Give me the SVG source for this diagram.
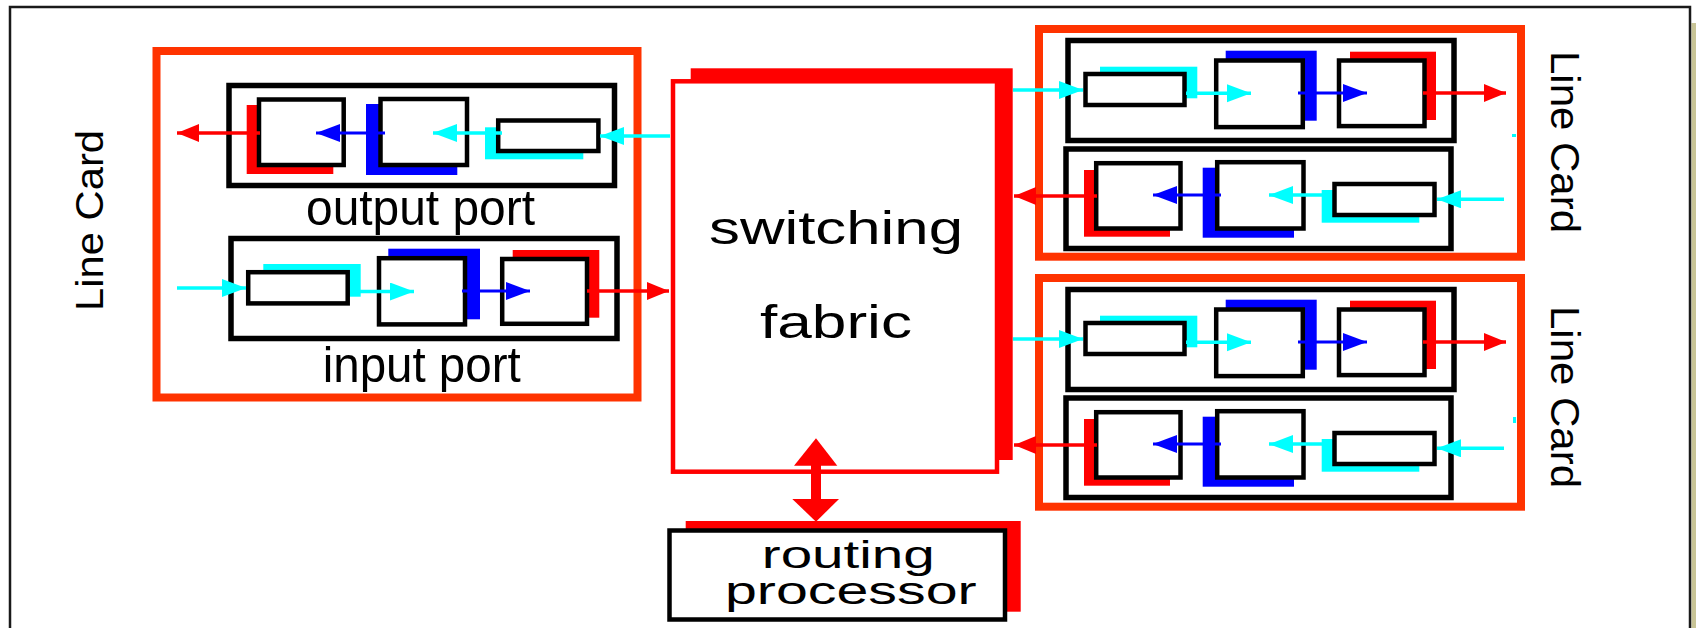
<svg xmlns="http://www.w3.org/2000/svg" width="1696" height="628" viewBox="0 0 1696 628">
<defs>
<style>
.t{font-family:"Liberation Sans",Arial,sans-serif;fill:#000}
.card{fill:none;stroke:#FF3300;stroke-width:8}
.port{fill:none;stroke:#000;stroke-width:5.5}
.box{fill:#fff;stroke:#000;stroke-width:4.5}
.rs{fill:#FF0000}
.bs{fill:#0000FF}
.cs{fill:#00FFFF}
.ac{stroke:#00FFFF;stroke-width:3.5;fill:none;marker-end:url(#hc)}
.ab{stroke:#0000FF;stroke-width:3;fill:none;marker-end:url(#hb)}
.ar{stroke:#FF0000;stroke-width:3.5;fill:none;marker-end:url(#hr)}
</style>
<marker id="hc" markerUnits="userSpaceOnUse" markerWidth="26" markerHeight="20" refX="24" refY="9" orient="auto"><path d="M0,0 L24,9 L0,18 z" fill="#00FFFF"/></marker>
<marker id="hb" markerUnits="userSpaceOnUse" markerWidth="26" markerHeight="20" refX="24" refY="9" orient="auto"><path d="M0,0 L24,9 L0,18 z" fill="#0000FF"/></marker>
<marker id="hr" markerUnits="userSpaceOnUse" markerWidth="26" markerHeight="20" refX="22" refY="9" orient="auto"><path d="M0,0 L22,9 L0,18 z" fill="#FF0000"/></marker>
</defs>
<rect x="0" y="0" width="1696" height="628" fill="#fff"/>
<rect x="1691.5" y="23" width="5" height="620" fill="#C8C496"/>
<rect x="10" y="7" width="1680" height="640" fill="#fff" stroke="#1a1a1a" stroke-width="2.5"/>

<g id="linecard-left">
<rect class="card" x="156.5" y="51" width="481" height="346.5"/>
<text class="t" font-size="39" text-anchor="middle" textLength="181" lengthAdjust="spacingAndGlyphs" transform="translate(103,220.5) rotate(-90)">Line Card</text>
</g>
<g id="output-port-left">
<rect class="port" x="229" y="85.5" width="385.5" height="100"/>
<rect class="rs" x="246.7" y="105" width="86.6" height="69"/>
<rect class="box" x="259" y="99.5" width="84.7" height="65.5"/>
<rect class="bs" x="366" y="104" width="91.3" height="71"/>
<rect class="box" x="380.5" y="99" width="86.5" height="66"/>
<rect class="cs" x="485" y="127.3" width="98.3" height="32"/>
<rect class="box" x="498.2" y="120.5" width="100.2" height="30.5"/>
<text class="t" font-size="50" x="420.5" y="225" text-anchor="middle" textLength="229" lengthAdjust="spacingAndGlyphs">output port</text>
</g>
<g id="input-port-left">
<rect class="port" x="231" y="238.5" width="386" height="100"/>
<rect class="cs" x="263.3" y="264" width="97.4" height="32.7"/>
<rect class="box" x="248.2" y="272.2" width="99.5" height="31.2"/>
<rect class="bs" x="388.3" y="248.7" width="91.7" height="70.6"/>
<rect class="box" x="379" y="258.2" width="86" height="66.2"/>
<rect class="rs" x="512.7" y="250" width="86.6" height="67.7"/>
<rect class="box" x="502.2" y="259" width="84.8" height="64.8"/>
<text class="t" font-size="50" x="421.7" y="381.7" text-anchor="middle" textLength="198" lengthAdjust="spacingAndGlyphs">input port</text>
</g>

<g id="switching-fabric">
<rect class="rs" x="690.7" y="68.3" width="322" height="391.7"/>
<rect x="673" y="81.3" width="324" height="390.4" fill="#fff" stroke="#FF0000" stroke-width="4.5"/>
<text class="t" font-size="46" x="836" y="244" text-anchor="middle" textLength="254" lengthAdjust="spacingAndGlyphs">switching</text>
<text class="t" font-size="46" x="836" y="338.3" text-anchor="middle" textLength="152" lengthAdjust="spacingAndGlyphs">fabric</text>
</g>

<g id="routing-processor">
<rect class="rs" x="685.7" y="521" width="335" height="90.7"/>
<rect class="box" x="669.5" y="530.5" width="335.5" height="89"/>
<text class="t" font-size="39" x="848.3" y="568" text-anchor="middle" textLength="173" lengthAdjust="spacingAndGlyphs">routing</text>
<text class="t" font-size="39" x="850.8" y="604" text-anchor="middle" textLength="251.7" lengthAdjust="spacingAndGlyphs">processor</text>
</g>

<g id="linecard-right-top">
<rect class="card" x="1039" y="29" width="482" height="227.7"/>
<text class="t" font-size="40" text-anchor="middle" textLength="182" lengthAdjust="spacingAndGlyphs" transform="translate(1551,142) rotate(90)">Line Card</text>
<rect class="port" x="1068" y="40.5" width="386" height="100"/>
<rect class="cs" x="1100" y="66.7" width="97.3" height="31.6"/>
<rect class="box" x="1085.5" y="74" width="99" height="31"/>
<rect class="bs" x="1225.7" y="50.7" width="91" height="70"/>
<rect class="box" x="1216.2" y="60.5" width="86.6" height="66.6"/>
<rect class="rs" x="1350" y="51.7" width="86" height="68.3"/>
<rect class="box" x="1339" y="60.5" width="85.5" height="65.6"/>
<rect class="port" x="1066" y="149" width="385" height="99.5"/>
<rect class="rs" x="1084" y="170" width="86" height="66.7"/>
<rect class="box" x="1096.2" y="163.2" width="84.3" height="65.3"/>
<rect class="bs" x="1202.7" y="167.7" width="91.3" height="70"/>
<rect class="box" x="1217.2" y="162.2" width="86.3" height="66.3"/>
<rect class="cs" x="1321.7" y="190" width="97.6" height="32.7"/>
<rect class="box" x="1334.5" y="184" width="100" height="31"/>
<rect class="cs" x="1512" y="134" width="4" height="3"/>
</g>

<g id="linecard-right-bottom">
<rect class="card" x="1039" y="278" width="482" height="228.7"/>
<text class="t" font-size="40" text-anchor="middle" textLength="182" lengthAdjust="spacingAndGlyphs" transform="translate(1551,397) rotate(90)">Line Card</text>
<rect class="port" x="1068" y="289.5" width="386" height="100"/>
<rect class="cs" x="1100" y="315.7" width="97.3" height="31.6"/>
<rect class="box" x="1085.5" y="323" width="99" height="31"/>
<rect class="bs" x="1225.7" y="299.7" width="91" height="70"/>
<rect class="box" x="1216.2" y="309.5" width="86.6" height="66.6"/>
<rect class="rs" x="1350" y="300.7" width="86" height="68.3"/>
<rect class="box" x="1339" y="309.5" width="85.5" height="65.6"/>
<rect class="port" x="1066" y="398" width="385" height="99.5"/>
<rect class="rs" x="1084" y="419" width="86" height="66.7"/>
<rect class="box" x="1096.2" y="412.2" width="84.3" height="65.3"/>
<rect class="bs" x="1202.7" y="416.7" width="91.3" height="70"/>
<rect class="box" x="1217.2" y="411.2" width="86.3" height="66.3"/>
<rect class="cs" x="1321.7" y="439" width="97.6" height="32.7"/>
<rect class="box" x="1334.5" y="433" width="100" height="31"/>
<rect class="cs" x="1513" y="417" width="3" height="6"/>
</g>

<g id="connectors">
<line class="ac" x1="670" y1="136" x2="600" y2="136"/>
<line class="ac" x1="502" y1="133" x2="433" y2="133"/>
<line class="ab" x1="385" y1="133" x2="316" y2="133"/>
<line class="ar" x1="260" y1="133" x2="177" y2="133"/>
<line class="ac" x1="177" y1="288" x2="246" y2="288"/>
<line class="ac" x1="350" y1="291.5" x2="414" y2="291.5"/>
<line class="ab" x1="462" y1="291" x2="530" y2="291"/>
<line class="ar" x1="587" y1="291" x2="669" y2="291"/>

<line class="ac" x1="1013" y1="90" x2="1083" y2="90"/>
<line class="ac" x1="1186" y1="93.3" x2="1251" y2="93.3"/>
<line class="ab" x1="1298" y1="93" x2="1367" y2="93"/>
<line class="ar" x1="1423" y1="93" x2="1506" y2="93"/>
<line class="ac" x1="1504" y1="199.3" x2="1437" y2="199.3"/>
<line class="ac" x1="1332" y1="195" x2="1269" y2="195"/>
<line class="ab" x1="1221" y1="195" x2="1153" y2="195"/>
<line class="ar" x1="1097" y1="196" x2="1014" y2="196"/>

<line class="ac" x1="1013" y1="339" x2="1083" y2="339"/>
<line class="ac" x1="1186" y1="342.3" x2="1251" y2="342.3"/>
<line class="ab" x1="1298" y1="342" x2="1367" y2="342"/>
<line class="ar" x1="1423" y1="342" x2="1506" y2="342"/>
<line class="ac" x1="1504" y1="448.3" x2="1437" y2="448.3"/>
<line class="ac" x1="1332" y1="444" x2="1269" y2="444"/>
<line class="ab" x1="1221" y1="444" x2="1153" y2="444"/>
<line class="ar" x1="1097" y1="445" x2="1014" y2="445"/>

<rect class="rs" x="811" y="464" width="10" height="36"/>
<polygon class="rs" points="794,465.7 816,438.3 837.3,465.7"/>
<polygon class="rs" points="792.3,499 816,521.7 839,499"/>
</g>
</svg>
